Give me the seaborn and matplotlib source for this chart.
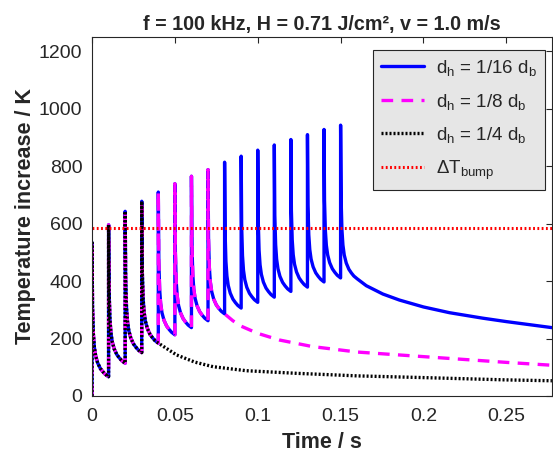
import numpy as np
import pandas as pd
import matplotlib
matplotlib.use("Agg")
import matplotlib.pyplot as plt
import seaborn as sns

# ---- data ----
pulse_times = [0.00, 0.01, 0.02, 0.03, 0.04, 0.05, 0.06, 0.07,
               0.08, 0.09, 0.10, 0.11, 0.12, 0.13, 0.14, 0.15]
peaks = [534, 596, 643, 678, 710, 739, 765, 788,
         814, 835, 856, 874, 893, 910, 928, 943]
# value 0.01 s after each pulse (just before the next one)
troughs = [67, 114, 151, 184, 213, 238, 262, 286,
           306, 326, 344, 364, 379, 397, 411, 408]
# shape of the decay after a pulse (fraction of peak-trough left)
decay_offsets = [0.0003, 0.0008, 0.0014, 0.0022, 0.0034, 0.0050, 0.0065, 0.0080, 0.0100]
decay_fraction = [0.52, 0.32, 0.22, 0.155, 0.103, 0.062, 0.038, 0.018, 0.0]

n_pulses = {"blue": 16, "magenta": 8, "black": 4}

tail_t_blue = [0.1655, 0.1755, 0.1855, 0.20, 0.2157, 0.2357, 0.25, 0.2775]
tail_T_blue = [384, 355, 334, 310, 290, 271, 259, 238]
tail_t_mag = [0.085, 0.09, 0.10, 0.113, 0.133, 0.16, 0.20, 0.25, 0.2775]
tail_T_mag = [262, 243, 218, 195, 172, 153, 137, 117, 107]
tail_t_blk = [0.051, 0.062, 0.073, 0.093, 0.123, 0.16, 0.20, 0.25, 0.2775]
tail_T_blk = [143, 118, 102, 88, 79, 70, 64, 56, 53]

dT_bump = 585

labels = [r"d$_\mathrm{h}$ = 1/16 d$_\mathrm{b}$",
          r"d$_\mathrm{h}$ = 1/8 d$_\mathrm{b}$",
          r"d$_\mathrm{h}$ = 1/4 d$_\mathrm{b}$",
          r"$\Delta$T$_\mathrm{bump}$"]
title = "f = 100 kHz, H = 0.71 J/cm², v = 1.0 m/s"


def build(n, tail_t, tail_T):
    ts, Ts = [0.0], [0.0]
    for k in range(n):
        t0, pk, tr = pulse_times[k], peaks[k], troughs[k]
        ts.append(t0); Ts.append(pk)
        for off, fr in zip(decay_offsets, decay_fraction):
            ts.append(t0 + off); Ts.append(tr + fr * (pk - tr))
    ts += tail_t; Ts += tail_T
    return pd.DataFrame({"t": ts, "T": Ts})


df_blue = build(n_pulses["blue"], tail_t_blue, tail_T_blue)
df_mag = build(n_pulses["magenta"], tail_t_mag, tail_T_mag)
df_blk = build(n_pulses["black"], tail_t_blk, tail_T_blk)

sns.set_style("white")
plt.rcParams["font.family"] = ["Liberation Sans", "DejaVu Sans"]
plt.rcParams["mathtext.fontset"] = "custom"
plt.rcParams["mathtext.rm"] = "Liberation Sans"
plt.rcParams["mathtext.it"] = "Liberation Sans:italic"

dark = (0.15, 0.15, 0.15)
fig = plt.figure(figsize=(5.53, 4.54), dpi=100)
ax = fig.add_axes([0.1664, 0.1278, 0.8316, 0.7907])

sns.lineplot(data=df_blue, x="t", y="T", estimator=None, sort=False, ax=ax,
             color=(0, 0, 1), lw=2.4, label=labels[0])
sns.lineplot(data=df_mag, x="t", y="T", estimator=None, sort=False, ax=ax,
             color=(1, 0, 1), lw=2.4, label=labels[1])
ax.lines[-1].set_linestyle((0, (3.5, 2.5)))
sns.lineplot(data=df_blk, x="t", y="T", estimator=None, sort=False, ax=ax,
             color="black", lw=2.4, label=labels[2])
ax.lines[-1].set_linestyle((0, (0.6, 0.6)))
ax.axhline(dT_bump, color=(1, 0, 0), lw=2.2, ls=(0, (0.6, 0.8)), label=labels[3])

ax.set_xlim(0, 0.2775)
ax.set_ylim(0, 1250)
ax.set_xticks([0, 0.05, 0.1, 0.15, 0.2, 0.25])
ax.set_xticklabels(["0", "0.05", "0.1", "0.15", "0.2", "0.25"])
ax.set_yticks([0, 200, 400, 600, 800, 1000, 1200])
ax.tick_params(direction="in", length=4, width=0.8, top=True, right=True,
               labelsize=14, colors=dark)
ax.tick_params(axis="x", pad=9)
ax.tick_params(axis="y", pad=7)
for sp in ax.spines.values():
    sp.set_color(dark)
    sp.set_linewidth(0.8)

ax.set_xlabel("Time / s", fontsize=15.5, fontweight="bold", color=dark, labelpad=5)
ax.set_ylabel("Temperature increase / K", fontsize=15.5, fontweight="bold",
              color=dark, labelpad=2)
ax.set_title(title, fontsize=14.2, fontweight="bold", pad=5)

leg = ax.legend(loc="upper right", bbox_to_anchor=(0.985, 0.965),
                fontsize=13.5, frameon=True, fancybox=False,
                edgecolor=dark, facecolor=(0.9, 0.9, 0.9), framealpha=1,
                handlelength=2.3, borderaxespad=0.0, labelspacing=0.72,
                handletextpad=0.6, borderpad=0.45)
leg.get_frame().set_linewidth(0.8)

fig.savefig("out.png", dpi=100)
